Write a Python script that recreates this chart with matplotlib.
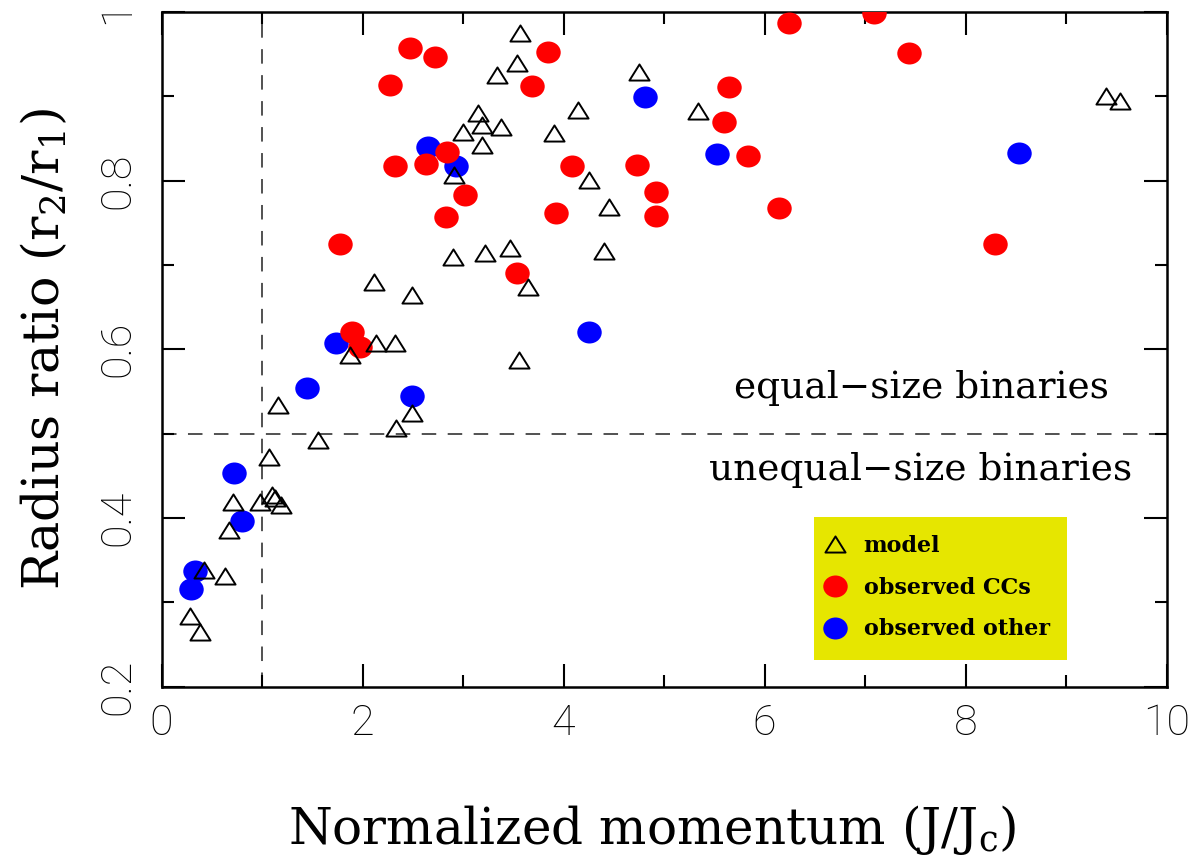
import matplotlib
matplotlib.use("Agg")
import matplotlib.pyplot as plt
from matplotlib.path import Path
from matplotlib.transforms import Affine2D
from matplotlib.lines import Line2D
from matplotlib.patches import Rectangle
from matplotlib.ticker import MultipleLocator

# Model binaries: normalized angular momentum J/Jc and radius ratio r2/r1
model_j = [0.28, 0.38, 0.42, 0.63, 0.67, 0.71, 0.98, 1.07, 1.10, 1.13, 1.19,
           1.16, 1.56, 1.88, 2.13, 2.32, 2.33, 2.49, 2.11, 2.49, 2.90, 2.91,
           3.00, 3.15, 3.19, 3.19, 3.22, 3.34, 3.38, 3.47, 3.54, 3.57, 3.56,
           3.65, 3.91, 4.14, 4.25, 4.40, 4.45, 4.75, 5.34, 9.40, 9.54]
model_r = [0.284, 0.265, 0.338, 0.331, 0.386, 0.419, 0.419, 0.472, 0.427,
           0.423, 0.415, 0.534, 0.492, 0.593, 0.607, 0.608, 0.507, 0.524,
           0.680, 0.664, 0.709, 0.807, 0.858, 0.880, 0.866, 0.842, 0.714,
           0.925, 0.864, 0.720, 0.939, 0.975, 0.587, 0.674, 0.857, 0.884,
           0.801, 0.716, 0.769, 0.929, 0.883, 0.900, 0.895]

# Observed contact binaries (CCs)
cc_j = [2.47, 2.72, 2.27, 2.32, 2.63, 2.84, 3.02, 2.83, 1.78, 1.90, 1.97,
        3.85, 3.69, 4.08, 4.73, 4.92, 4.92, 3.93, 3.54, 5.65, 5.60, 5.84,
        6.14, 6.24, 7.09, 7.44, 8.29]
cc_r = [0.957, 0.947, 0.913, 0.817, 0.820, 0.834, 0.783, 0.757, 0.725,
        0.621, 0.603, 0.953, 0.912, 0.817, 0.819, 0.786, 0.758, 0.761,
        0.691, 0.911, 0.869, 0.829, 0.768, 0.987, 0.999, 0.951, 0.725]

# Other observed binaries
other_j = [2.65, 2.93, 1.74, 1.445, 2.49, 0.72, 0.80, 0.33, 0.29, 4.81,
           5.53, 4.25, 8.53]
other_r = [0.840, 0.817, 0.608, 0.554, 0.544, 0.453, 0.396, 0.337, 0.316,
           0.899, 0.831, 0.621, 0.833]

x_ticks = [0, 2, 4, 6, 8, 10]
x_tick_labels = ["0", "2", "4", "6", "8", "10"]
y_ticks = [0.2, 0.4, 0.6, 0.8, 1.0]
y_tick_labels = ["0.2", "0.4", "0.6", "0.8", "1"]
critical_j = 1.0
equal_size_limit = 0.5

plt.rcParams["mathtext.fontset"] = "dejavuserif"
serif = "DejaVu Serif"
tick_font = dict(family="Roboto", weight="light")

fig = plt.figure(figsize=(12.01, 8.56), dpi=100)
ax = fig.add_axes([0.1345, 0.198, 0.8368, 0.788])
ax.set_xlim(0, 10)
ax.set_ylim(0.2, 1.0)

# marker shapes: wide open triangle and slightly flattened disc
tri = Path([(-1, -0.8), (1, -0.8), (0, 0.8), (-1, -0.8)],
           [Path.MOVETO, Path.LINETO, Path.LINETO, Path.CLOSEPOLY])
disc = Path.unit_circle().transformed(Affine2D().scale(1.0, 0.9))

tri_style = dict(ls="none", marker=tri, ms=14.5, mfc="none", mec="black", mew=1.4)
red_style = dict(ls="none", marker=disc, ms=17.6, mfc="#ff0000", mec="none")
blue_style = dict(ls="none", marker=disc, ms=17.6, mfc="#0000ff", mec="none")

ax.plot(other_j, other_r, zorder=3, **blue_style)
ax.plot(cc_j, cc_r, zorder=4, **red_style)
ax.plot(model_j, model_r, zorder=5, **tri_style)

dash = dict(color="#222222", lw=1.1, dashes=(9.5, 7.5), zorder=1)
ax.axvline(critical_j, **dash)
ax.axhline(equal_size_limit, **dash)

ax.text(7.557, 0.542, "equal\u2212size binaries", ha="center", va="baseline",
        family=serif, fontsize=27)
ax.text(7.557, 0.445, "unequal\u2212size binaries", ha="center", va="baseline",
        family=serif, fontsize=27)

# legend on a yellow panel
ax.add_patch(Rectangle((0.649, 0.0393), 0.252, 0.212, transform=ax.transAxes,
                       facecolor="#e6e600", edgecolor="none", zorder=2))
handles = [Line2D([], [], **tri_style), Line2D([], [], **red_style),
           Line2D([], [], **blue_style)]
leg = ax.legend(handles, ["model", "observed CCs", "observed other"],
                loc="upper left", bbox_to_anchor=(0.6587, 0.2250),
                frameon=False, borderpad=0, borderaxespad=0,
                handlelength=1.0, handletextpad=0.8, labelspacing=0.89,
                prop=dict(family=serif, weight="bold", size=16))
leg.set_zorder(6)

ax.set_xticks(x_ticks)
ax.set_xticklabels(x_tick_labels, fontdict=tick_font)
ax.set_yticks(y_ticks)
ax.set_yticklabels(y_tick_labels, fontdict=tick_font, rotation=90, va="center")
ax.xaxis.set_minor_locator(MultipleLocator(1))
ax.yaxis.set_minor_locator(MultipleLocator(0.1))
ax.tick_params(which="both", direction="in", top=True, right=True,
               width=1.5, color="black")
ax.tick_params(which="major", length=16.5)
ax.tick_params(which="minor", length=8.6)
ax.tick_params(axis="x", pad=12, labelsize=31)
ax.tick_params(axis="y", pad=17, labelsize=31)
for s in ax.spines.values():
    s.set_linewidth(1.8)

ax.set_xlabel("Normalized momentum (J/J$_\\mathrm{c}$)", family=serif, fontsize=36)
ax.xaxis.set_label_coords(0.488, -0.172)
ax.set_ylabel("Radius ratio (r$_2$/r$_1$)", family=serif, fontsize=36.5)
ax.yaxis.set_label_coords(-0.091, 0.5)

fig.savefig("out.png", dpi=100)
